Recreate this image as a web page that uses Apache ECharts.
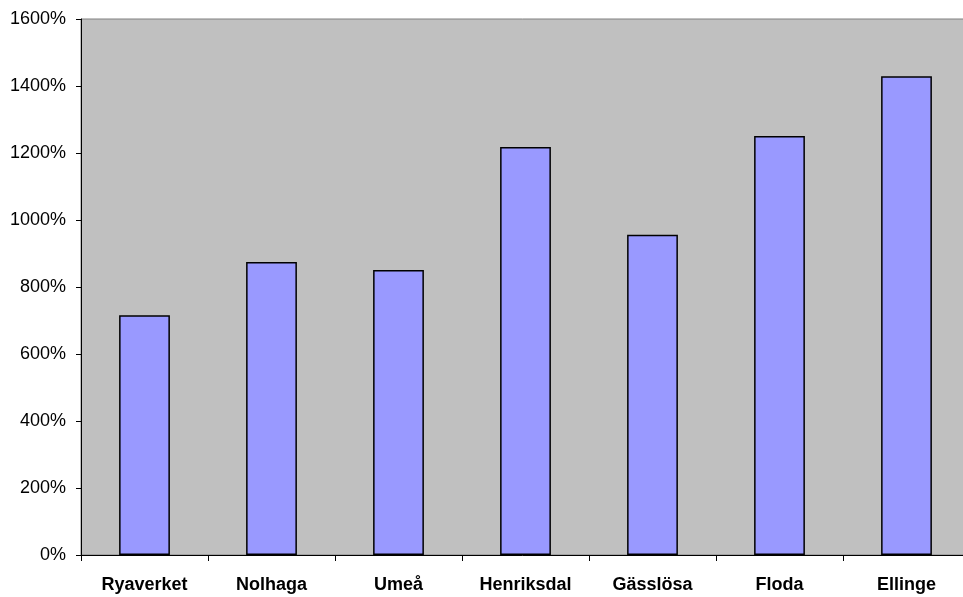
<!DOCTYPE html>
<html>
<head>
<meta charset="utf-8">
<script src="https://cdn.jsdelivr.net/npm/echarts@6/dist/echarts.min.js"></script>
<style>
  html, body { margin: 0; padding: 0; background: #ffffff; }
  #chart { width: 963px; height: 597px; }
</style>
</head>
<body>
<div id="chart"></div>
<script>
// Plants and their percentage values
const categories = ['Ryaverket', 'Nolhaga', 'Umeå', 'Henriksdal', 'Gässlösa', 'Floda', 'Ellinge'];
const values = [716, 875, 851, 1218, 956, 1251, 1429];

const chart = echarts.init(document.getElementById('chart'));
chart.setOption({
  animation: false,
  grid: {
    left: 81, top: 19, width: 889, height: 536,
    outerBoundsMode: 'none',
    containLabel: false,
    show: true,
    backgroundColor: '#c0c0c0',
    borderColor: '#808080',
    borderWidth: 1
  },
  xAxis: {
    type: 'category',
    data: categories,
    axisLine: { lineStyle: { color: '#000', width: 1 } },
    axisTick: { show: true, length: 6, alignWithLabel: false, lineStyle: { color: '#000' } },
    axisLabel: {
      color: '#000', fontFamily: 'Liberation Sans, Arial', fontWeight: 'bold',
      fontSize: 18, margin: 21, interval: 0
    },
    splitLine: { show: false }
  },
  yAxis: {
    type: 'value',
    min: 0, max: 1600, interval: 200,
    axisLine: { show: true, lineStyle: { color: '#000', width: 1 } },
    axisTick: { show: true, length: 5, lineStyle: { color: '#000' } },
    axisLabel: {
      color: '#000', fontFamily: 'Liberation Sans, Arial', fontSize: 18,
      margin: 15, formatter: function (v) { return v + '%'; }
    },
    splitLine: { show: false }
  },
  series: [{
    type: 'bar',
    data: values,
    barWidth: '40%',
    itemStyle: { color: '#9999ff', borderColor: '#000', borderWidth: 1.5 }
  }]
});
</script>
</body>
</html>
